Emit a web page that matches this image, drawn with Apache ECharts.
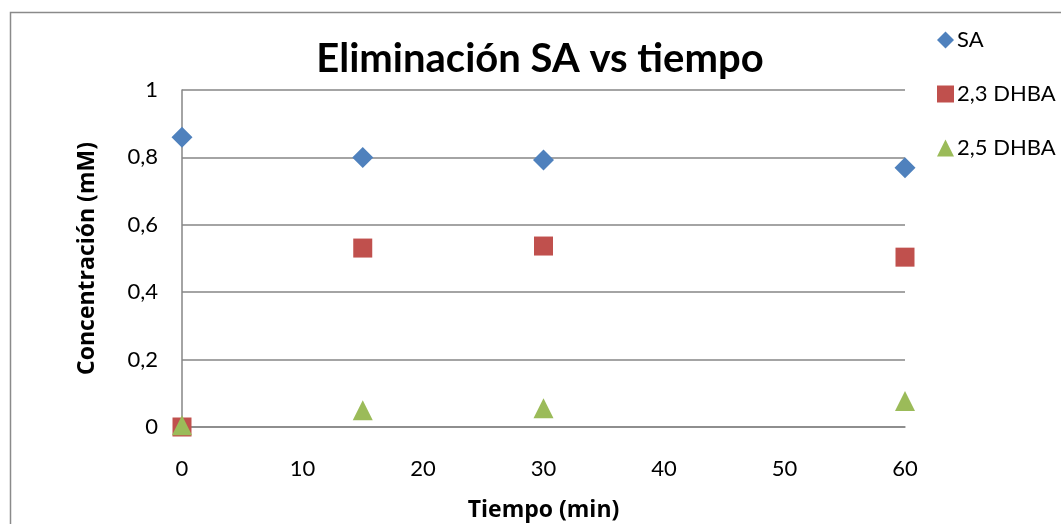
<!DOCTYPE html>
<html>
<head>
<meta charset="utf-8">
<script src="https://cdn.jsdelivr.net/npm/echarts@6/dist/echarts.min.js"></script>
<style>
  html, body { margin: 0; padding: 0; background: #fff; }
  #chart { width: 1061px; height: 524px; }
</style>
</head>
<body>
<div id="chart"></div>
<script>
// Sampling times (min)
const tiempo = [0, 15, 30, 60];
// Concentrations (mM)
const sa = [0.86, 0.80, 0.792, 0.769];
const dhba23 = [0.0, 0.531, 0.537, 0.504];
const dhba25 = [0.005, 0.050, 0.056, 0.077];

const seriesNames = ['SA', '2,3 DHBA', '2,5 DHBA'];
const FONT = 'Lato, "Open Sans", sans-serif';
const BOLD_FONT = '"Open Sans", Lato, sans-serif';

const pairs = (ys) => tiempo.map((t, i) => [t, ys[i]]);

const chart = echarts.init(document.getElementById('chart'), null, { renderer: 'canvas' });

chart.setOption({
  animation: false,
  backgroundColor: '#ffffff',
  textStyle: { fontFamily: FONT, color: '#000' },
  title: {
    text: 'Eliminación SA vs tiempo',
    left: 535,
    textAlign: 'center',
    top: 34,
    textStyle: { fontFamily: FONT, fontSize: 40, fontWeight: 'bold', color: '#000' }
  },
  graphic: [{
    type: 'rect',
    left: 8, top: 10,
    shape: { width: 1100, height: 600 },
    style: { fill: 'none', stroke: '#8a8a8a', lineWidth: 1.5 },
    silent: true
  }],
  legend: {
    orient: 'vertical',
    left: 932,
    top: 24,
    itemGap: 32,
    itemWidth: 17,
    itemHeight: 17,
    textStyle: { fontFamily: FONT, fontSize: 22, color: '#000', padding: [0, 0, 0, -2] },
    data: [
      { name: seriesNames[0], icon: 'diamond' },
      { name: seriesNames[1], icon: 'rect' },
      { name: seriesNames[2], icon: 'triangle' }
    ]
  },
  grid: {
    left: 182, right: 156, top: 90, bottom: 97,
    containLabel: false,
    outerBoundsMode: 'none'
  },
  xAxis: {
    type: 'value',
    min: 0, max: 60, interval: 10,
    name: 'Tiempo (min)',
    nameLocation: 'middle',
    nameGap: 72,
    nameTextStyle: { fontFamily: BOLD_FONT, fontSize: 23, fontWeight: 'bold', color: '#000' },
    axisLine: { show: true, lineStyle: { color: '#868686', width: 1.5 } },
    axisTick: { show: false },
    splitLine: { show: false },
    axisLabel: { fontFamily: FONT, fontSize: 22, color: '#000', margin: 31 }
  },
  yAxis: {
    type: 'value',
    min: 0, max: 1, interval: 0.2,
    name: 'Concentración (mM)',
    nameLocation: 'middle',
    nameGap: 83,
    nameTextStyle: { fontFamily: BOLD_FONT, fontSize: 23, fontWeight: 'bold', color: '#000' },
    axisLine: { show: true, lineStyle: { color: '#868686', width: 1.5 } },
    axisTick: { show: false },
    splitLine: { show: true, lineStyle: { color: '#868686', width: 1.5 } },
    axisLabel: {
      fontFamily: FONT, fontSize: 22, color: '#000', margin: 24,
      formatter: (v) => String(Math.round(v * 10) / 10).replace('.', ',')
    }
  },
  series: [
    {
      name: seriesNames[0], type: 'scatter', symbol: 'diamond', symbolSize: 21,
      clip: false, itemStyle: { color: '#4F81BD', opacity: 1 }, data: pairs(sa)
    },
    {
      name: seriesNames[1], type: 'scatter', symbol: 'rect', symbolSize: 19,
      clip: false, itemStyle: { color: '#C0504D', opacity: 1 }, data: pairs(dhba23)
    },
    {
      name: seriesNames[2], type: 'scatter', symbol: 'triangle', symbolSize: 20,
      clip: false, itemStyle: { color: '#9BBB59', opacity: 1 }, data: pairs(dhba25)
    }
  ]
});
</script>
</body>
</html>
